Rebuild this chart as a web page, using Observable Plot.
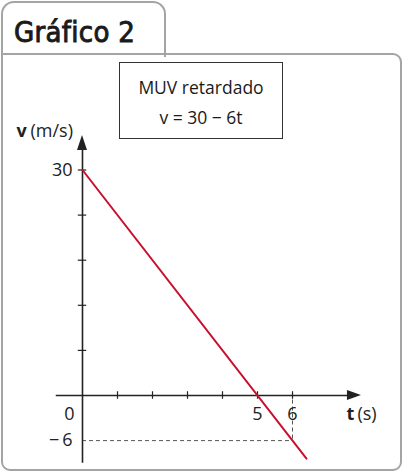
<!DOCTYPE html>
<html>
<head>
<meta charset="utf-8">
<script src="https://cdn.jsdelivr.net/npm/d3@7"></script>
<script src="https://cdn.jsdelivr.net/npm/@observablehq/plot@0.6"></script>
<style>
  html, body { margin: 0; padding: 0; background: #fff; }
  #wrap { position: relative; width: 403px; height: 473px; overflow: hidden; font-family: "Open Sans", sans-serif; }
  .tab { position: absolute; left: 1px; top: 1px; width: 165px; height: 56px; box-sizing: border-box;
         border: 2.5px solid #a4a4a4; border-bottom: none; border-radius: 13px 13px 0 0; }
  .panel { position: absolute; left: 1px; top: 53px; width: 401px; height: 418px; box-sizing: border-box;
           border: 2.5px solid #a4a4a4; border-radius: 0 9px 9px 9px; }
  .title { position: absolute; left: 14px; top: 15px; font-family: "DejaVu Sans Condensed", "DejaVu Sans", sans-serif;
           font-weight: normal; font-size: 29px; line-height: 34px; color: #1a1a1a; letter-spacing: 0.3px;
           -webkit-text-stroke: 0.9px #1a1a1a; }
  .box { position: absolute; left: 119px; top: 62px; width: 164px; height: 77px; box-sizing: border-box;
         border: 1.5px solid #333; text-align: center; font-size: 17.5px; line-height: 30px; padding-top: 9px; color: #1a1a1a; }
  #chart { position: absolute; left: 0; top: 0; }
</style>
</head>
<body>
<div id="wrap">
  <div class="tab"></div>
  <div class="panel"></div>
  <div class="title">Gráfico 2</div>
  <div class="box">MUV retardado<br>v = 30 − 6t</div>
  <div id="chart"></div>
</div>
<script>
// Data
const lineT = [0, 6.4];
const lineV = [30, -8.4];
const xTicks = [1, 2, 3, 4, 5, 6];
const yTicks = [6, 12, 18, 24, 30];
const originLabel = "0";
const xLabelT = [5, 6];
const xLabels = ["5", "6"];
const yLabelV = [30, -6];
const yLabels = ["30", "−\u20096"];
const axisT = [-0.75, 7.97];
const axisV = [-9.0, 34.6];
const markT = 6;
const markV = -6;

const lineData = lineT.map((t, i) => ({t, v: lineV[i]}));
const xLabelData = xLabelT.map((t, i) => ({t, label: xLabels[i]}));
const yLabelData = yLabelV.map((v, i) => ({v, label: yLabels[i]}));
const ink = "#222";
const font = "Open Sans";
const fs = 18;

function arrowHeads(index, scales) {
  const x0 = scales.x(0), y0 = scales.y(0);
  const xt = scales.x(axisT[1]), yt = scales.y(axisV[1]);
  const g = d3.create("svg:g").attr("fill", ink);
  g.append("path").attr("d", `M${xt},${y0}L${xt - 14},${y0 - 5}L${xt - 14},${y0 + 5}Z`);
  g.append("path").attr("d", `M${x0},${yt}L${x0 - 5},${yt + 15}L${x0 + 5},${yt + 15}Z`);
  return g.node();
}

const chart = Plot.plot({
  width: 403,
  height: 473,
  style: {background: "transparent", overflow: "visible"},
  x: {domain: [0, 6], range: [82, 292], axis: null},
  y: {domain: [-6, 30], range: [440.1, 169.5], axis: null},
  marks: [
    // dashed guides
    Plot.ruleY([markV], {x1: 0, x2: markT, stroke: "#555", strokeWidth: 1, strokeDasharray: "4,3"}),
    Plot.ruleX([markT], {y1: -0.6, y2: markV, stroke: "#555", strokeWidth: 1, strokeDasharray: "4,3"}),
    // axes
    Plot.ruleY([0], {x1: axisT[0], x2: axisT[1] - 0.2, stroke: ink, strokeWidth: 1.6}),
    Plot.ruleX([0], {y1: axisV[0], y2: axisV[1] - 1, stroke: ink, strokeWidth: 1.6}),
    Plot.ruleX(xTicks, {x: d => d, y1: -0.5, y2: 0.5, stroke: ink, strokeWidth: 1.2}),
    Plot.ruleY(yTicks, {y: d => d, x1: -0.12, x2: 0.12, stroke: ink, strokeWidth: 1.2}),
    arrowHeads,
    // line
    Plot.line(lineData, {x: "t", y: "v", stroke: "#c8102e", strokeWidth: 2}),
    // labels
    Plot.text([originLabel], {x: 0, y: 0, text: d => d, dx: -13, dy: 19, fontSize: fs, fontFamily: font, fill: ink}),
    Plot.text(xLabelData, {x: "t", y: 0, text: "label", dx: 0, dy: 19, fontSize: fs, fontFamily: font, fill: ink}),
    Plot.text(yLabelData, {x: 0, y: "v", text: "label", textAnchor: "end", dx: -10, fontSize: fs, fontFamily: font, fill: ink}),
    Plot.text(["t"], {x: axisT[1], y: 0, text: d => d, textAnchor: "start", dx: -15, dy: 19, fontSize: fs, fontWeight: "bold", fontFamily: font, fill: ink}),
    Plot.text(["(s)"], {x: axisT[1], y: 0, text: d => d, textAnchor: "start", dx: -4, dy: 19, fontSize: fs, fontFamily: font, fill: ink}),
    Plot.text(["v"], {x: 0, y: axisV[1], text: d => d, textAnchor: "start", dx: -66, dy: -4, fontSize: fs, fontWeight: "bold", fontFamily: font, fill: ink}),
    Plot.text(["(m/s)"], {x: 0, y: axisV[1], text: d => d, textAnchor: "start", dx: -52, dy: -4, fontSize: fs, fontFamily: font, fill: ink})
  ]
});
document.getElementById("chart").appendChild(chart);
</script>
</body>
</html>
